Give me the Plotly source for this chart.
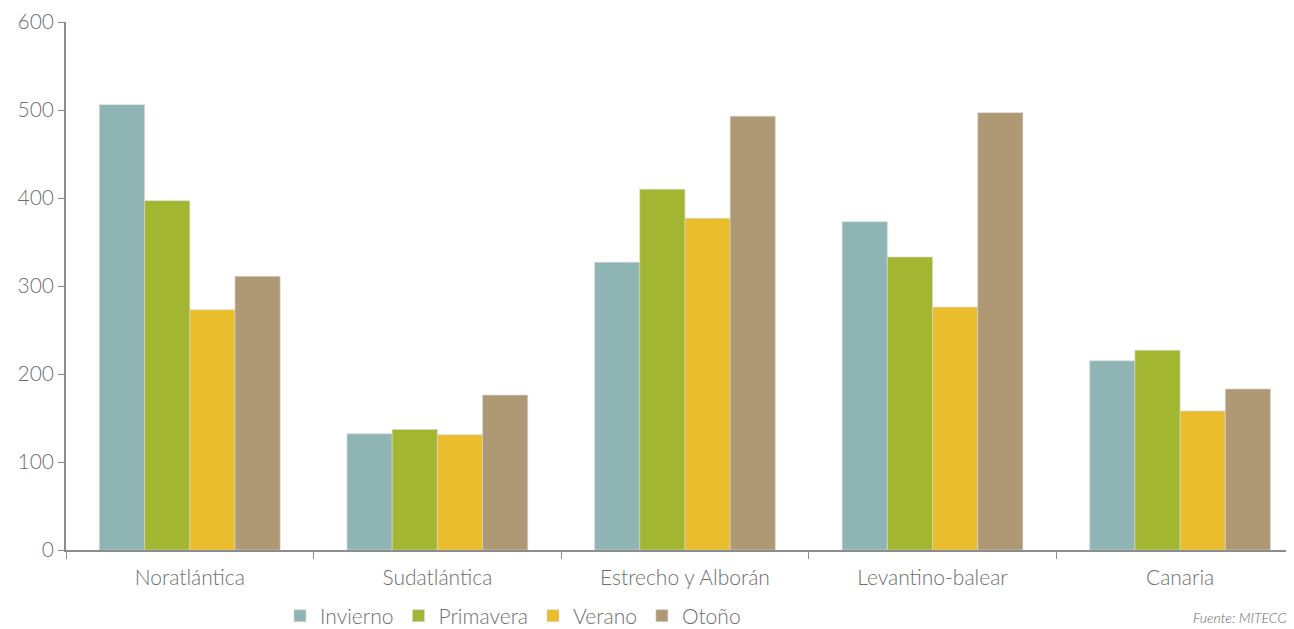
import plotly.graph_objects as go

categories = ["Noratlántica", "Sudatlántica", "Estrecho y Alborán", "Levantino-balear", "Canaria"]
invierno = [506, 132, 327, 373, 215]
primavera = [397, 137, 410, 333, 227]
verano = [273, 131, 377, 276, 158]
otono = [311, 176, 493, 497, 183]

series = [
    ("Invierno", invierno, "#8FB4B4"),
    ("Primavera", primavera, "#A2B632"),
    ("Verano", verano, "#EABD2C"),
    ("Otoño", otono, "#AF9974"),
]

fig = go.Figure()
for name, vals, col in series:
    fig.add_trace(go.Bar(
        x=categories, y=vals, name=name,
        marker=dict(color=col, line=dict(color="#d9d9d9", width=0.6)),
    ))

axis_col = "#8c8c8c"
font_col = "#6f6f6f"
fam = "Lato, 'Open Sans', sans-serif"
fig.update_layout(
    width=1286, height=621,
    barmode="group", bargap=0.27, bargroupgap=0,
    plot_bgcolor="white", paper_bgcolor="white",
    margin=dict(l=58, r=0, t=14, b=79, autoexpand=False),
    font=dict(family=fam, size=21, color=font_col, weight=300),
    showlegend=True,
    legend=dict(
        orientation="h", x=0.364, xanchor="center", y=-0.125, yanchor="middle",
        font=dict(size=21, color=font_col, family=fam, weight=300),
        itemwidth=30, traceorder="normal", bgcolor="rgba(0,0,0,0)",
    ),
    xaxis=dict(
        range=[-0.5, 4.46], showline=True, linecolor=axis_col, linewidth=1.5,
        ticks="outside", tickson="boundaries", ticklen=7, tickcolor=axis_col,
        tickfont=dict(size=21, color=font_col, family=fam, weight=300),
        ticklabelstandoff=8, automargin=False,
        showgrid=False, zeroline=False,
    ),
    yaxis=dict(
        range=[0, 600], dtick=100, showline=True, linecolor=axis_col, linewidth=1.5,
        ticks="outside", ticklen=6, tickcolor=axis_col, showgrid=False, zeroline=False,
        tickfont=dict(size=21, color=font_col, family=fam, weight=300),
        automargin=False,
    ),
    annotations=[dict(
        text="Fuente: MITECO", xref="paper", yref="paper", x=1.0, y=-0.147,
        xanchor="right", yanchor="bottom", xshift=-4, showarrow=False,
        font=dict(size=14, color="#666666", family=fam, style="italic"),
    )],
)

fig.write_html("out.html")
